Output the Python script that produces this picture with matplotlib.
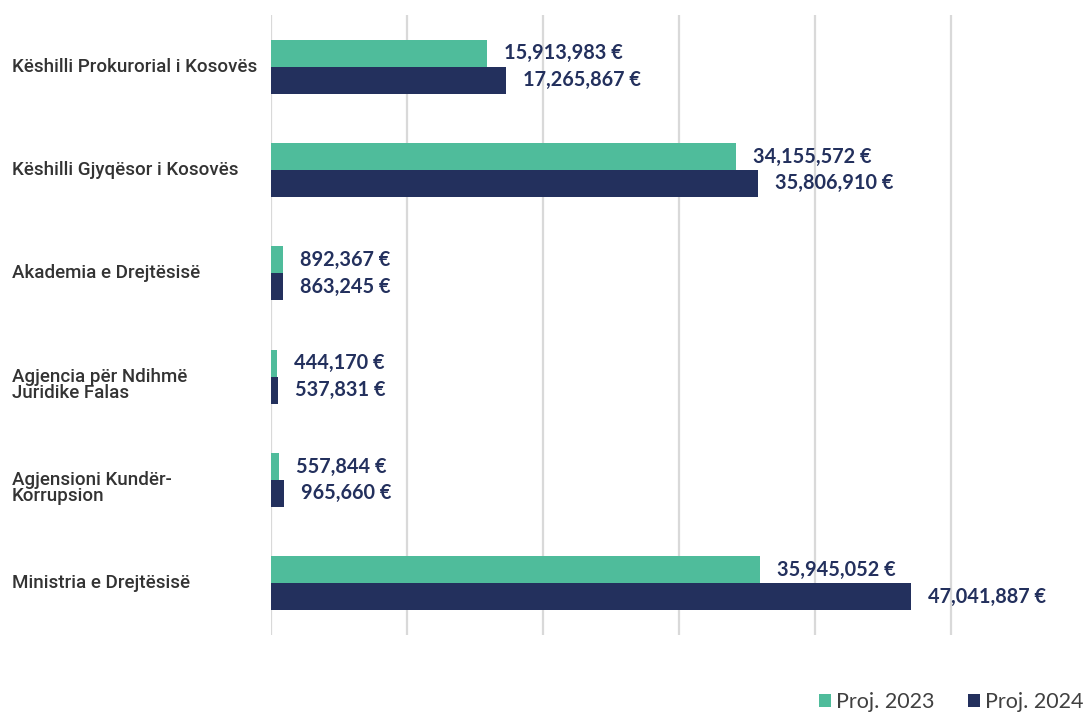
import matplotlib.pyplot as plt
from matplotlib.transforms import blended_transform_factory, offset_copy

# data (top to bottom)
categories = [
    "Këshilli Prokurorial i Kosovës",
    "Këshilli Gjyqësor i Kosovës",
    "Akademia e Drejtësisë",
    "Agjencia për Ndihmë\nJuridike Falas",
    "Agjensioni Kundër-\nKorrupsion",
    "Ministria e Drejtësisë",
]
proj_2023 = [15913983, 34155572, 892367, 444170, 557844, 35945052]
proj_2024 = [17265867, 35806910, 863245, 537831, 965660, 47041887]
series_names = ["Proj. 2023", "Proj. 2024"]

green = "#4FBC9B"
navy = "#23305D"
label_font = ["Roboto", "DejaVu Sans"]
value_font = ["Lato", "DejaVu Sans"]

fig = plt.figure(figsize=(10.83, 7.16), dpi=100)
ax = fig.add_axes([271 / 1083, 81 / 716, 1 - 271 / 1083, 620 / 716])

h = 0.26
y = list(range(len(categories)))
ax.barh([i - h / 2 for i in y], proj_2023, height=h, color=green, label=series_names[0])
ax.barh([i + h / 2 for i in y], proj_2024, height=h, color=navy, label=series_names[1])

ax.set_xlim(0, 59.7e6)
ax.set_ylim(len(categories) - 0.5, -0.5)
ax.set_xticks([i * 10e6 for i in range(6)])
ax.grid(axis="x", color="#D9D9D9", linewidth=1.6)
ax.set_axisbelow(True)
ax.tick_params(left=False, bottom=False, labelleft=False, labelbottom=False)
for s in ax.spines.values():
    s.set_visible(False)

# value labels, a fixed offset to the right of each bar
off = offset_copy(ax.transData, fig=fig, x=17, y=0, units="dots")
for i in y:
    ax.text(proj_2023[i], i - h / 2, "{:,} €".format(proj_2023[i]), transform=off,
            va="center", ha="left", fontsize=14.3, color=navy, family=value_font,
            fontweight="bold")
    ax.text(proj_2024[i], i + h / 2, "{:,} €".format(proj_2024[i]), transform=off,
            va="center", ha="left", fontsize=14.3, color=navy, family=value_font,
            fontweight="bold")

# category labels, left aligned at the figure edge
tr = blended_transform_factory(fig.transFigure, ax.transData)
for i, c in enumerate(categories):
    dy = 0.08 if "\n" in c else 0
    fig.text(12 / 1083, i + dy, c, transform=tr, va="center", ha="left",
             fontsize=13.5, color="#333333", family=label_font, fontweight="medium",
             linespacing=0.85)

fig.legend(loc="lower right", bbox_to_anchor=(1.018, -0.022), ncol=2, frameon=False,
           handlelength=0.55, handleheight=0.55, handletextpad=0.2,
           columnspacing=1.6, labelcolor="#404040",
           prop={"family": ["Lato", "DejaVu Sans"], "size": 15.5})

fig.savefig("out.png", dpi=100)
